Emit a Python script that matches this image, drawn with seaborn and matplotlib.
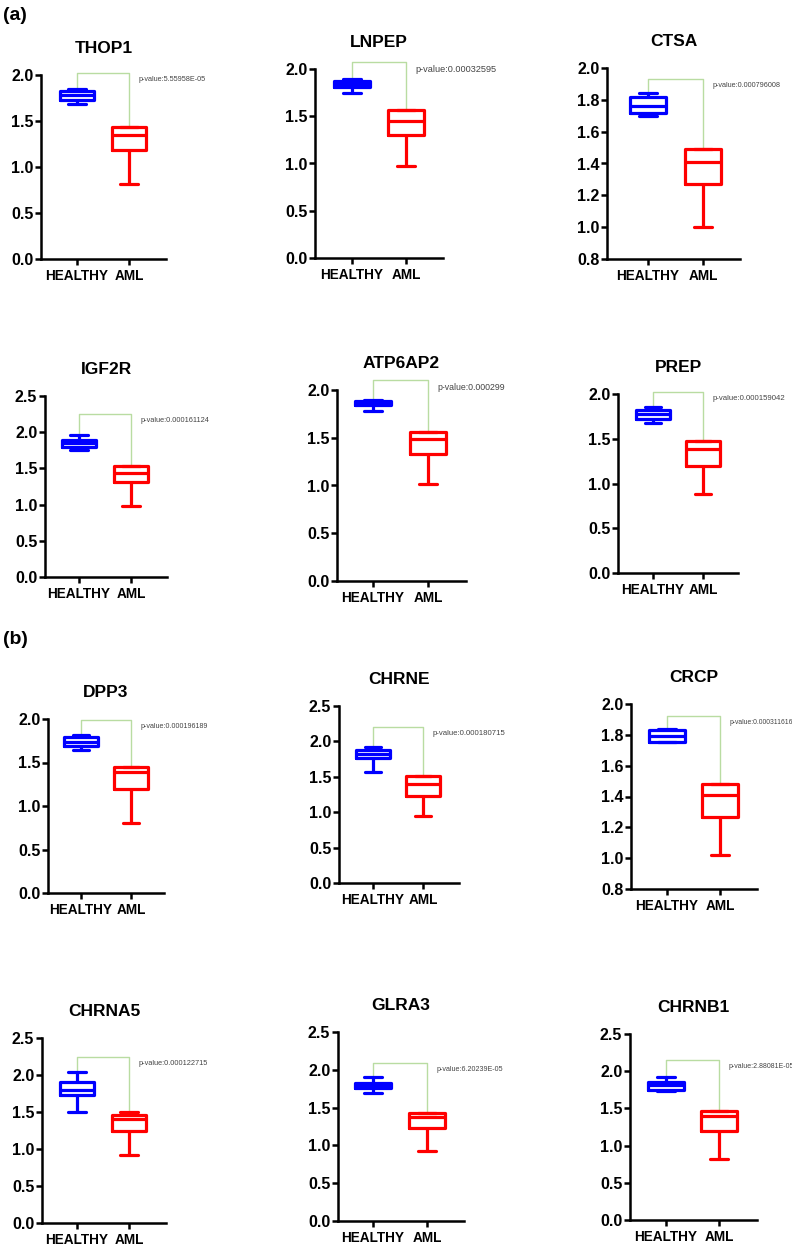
import pandas as pd
import matplotlib
matplotlib.use("Agg")
import matplotlib.pyplot as plt
from matplotlib.ticker import MultipleLocator, FormatStrFormatter
import seaborn as sns

# gene names and p-values, in reading order
genes = ["THOP1", "LNPEP", "CTSA", "IGF2R", "ATP6AP2", "PREP",
         "DPP3", "CHRNE", "CRCP", "CHRNA5", "GLRA3", "CHRNB1"]
pvalues = ["p-value:5.55958E-05", "p-value:0.00032595", "p-value:0.000796008",
           "p-value:0.000161124", "p-value:0.000299", "p-value:0.000159042",
           "p-value:0.000196189", "p-value:0.000180715", "p-value:0.000311616",
           "p-value:0.000122715", "p-value:6.20239E-05", "p-value:2.88081E-05"]

# five-number summaries: min, q1, median, q3, max
healthy = [
    [1.69, 1.73, 1.78, 1.83, 1.85],
    [1.75, 1.81, 1.84, 1.87, 1.89],
    [1.70, 1.72, 1.76, 1.815, 1.84],
    [1.76, 1.80, 1.85, 1.89, 1.96],
    [1.78, 1.84, 1.865, 1.89, 1.90],
    [1.675, 1.72, 1.78, 1.825, 1.85],
    [1.64, 1.69, 1.74, 1.79, 1.82],
    [1.57, 1.76, 1.82, 1.88, 1.92],
    [1.755, 1.755, 1.79, 1.83, 1.84],
    [1.50, 1.725, 1.80, 1.905, 2.04],
    [1.69, 1.76, 1.79, 1.82, 1.91],
    [1.73, 1.75, 1.82, 1.86, 1.92],
]
aml = [
    [0.81, 1.18, 1.35, 1.44, 1.44],
    [0.97, 1.30, 1.45, 1.57, 1.57],
    [1.00, 1.27, 1.41, 1.49, 1.49],
    [0.98, 1.31, 1.44, 1.54, 1.54],
    [1.02, 1.33, 1.49, 1.56, 1.56],
    [0.88, 1.20, 1.39, 1.47, 1.47],
    [0.80, 1.19, 1.39, 1.45, 1.45],
    [0.95, 1.23, 1.40, 1.51, 1.51],
    [1.02, 1.265, 1.41, 1.48, 1.48],
    [0.92, 1.24, 1.40, 1.455, 1.50],
    [0.92, 1.225, 1.38, 1.43, 1.43],
    [0.82, 1.20, 1.40, 1.46, 1.46],
]
# height of the significance bracket
bracket_top = [2.02, 2.07, 1.93, 2.25, 2.10, 2.02, 1.99, 2.20, 1.92, 2.24, 2.09, 2.15]

# y axis range and tick step per panel
y_min = [0, 0, 0.8, 0, 0, 0, 0, 0, 0.8, 0, 0, 0]
y_max = [2.0, 2.0, 2.0, 2.5, 2.0, 2.0, 2.0, 2.5, 2.0, 2.5, 2.5, 2.5]
y_step = [0.5, 0.5, 0.2, 0.5, 0.5, 0.5, 0.5, 0.5, 0.2, 0.5, 0.5, 0.5]

# layout in pixels: axes left, right, top, bottom, x of HEALTHY, x of AML
layout = [
    (41, 166, 75, 259, 77, 129),
    (315, 443, 69, 258, 352, 406),
    (607, 740, 68, 259, 648, 703),
    (45, 167, 396, 577, 79, 131),
    (337, 466, 390, 581, 373, 428),
    (618, 738, 394, 573, 653, 703),
    (48, 164, 719, 893, 81, 131),
    (339, 459, 706, 883, 373, 423),
    (631, 757, 704, 889, 667, 720),
    (42, 166, 1038, 1223, 77, 129),
    (338, 464, 1032, 1221, 373, 427),
    (630, 757, 1034, 1220, 666, 719),
]
pv_size = [5.2, 6.6, 5.2, 5.3, 6.3, 5.6, 5.1, 5.6, 4.9, 5.3, 5.1, 5.0]

W, H = 792, 1249
colors = {"HEALTHY": "#0000ff", "AML": "#ff0000"}

sns.set_style("ticks")
plt.rcParams["font.family"] = ["Liberation Sans", "DejaVu Sans"]
plt.rcParams["font.weight"] = "bold"
plt.rcParams["axes.linewidth"] = 1.8
plt.rcParams["text.color"] = "black"
plt.rcParams["xtick.color"] = "black"
plt.rcParams["ytick.color"] = "black"
plt.rcParams["axes.edgecolor"] = "black"

fig = plt.figure(figsize=(W / 100, H / 100), dpi=100)

for i, gene in enumerate(genes):
    left, right, top, bottom, c0, c1 = layout[i]
    ax = fig.add_axes([left / W, 1 - bottom / H, (right - left) / W, (bottom - top) / H])
    df = pd.DataFrame({
        "group": ["HEALTHY"] * len(healthy[i]) + ["AML"] * len(aml[i]),
        "value": healthy[i] + aml[i],
    })
    sns.boxplot(data=df, x="group", y="value", hue="group", palette=colors,
                order=["HEALTHY", "AML"], hue_order=["HEALTHY", "AML"],
                fill=False, width=0.67, whis=(0, 100), linewidth=2.3,
                legend=False, ax=ax)

    # significance bracket
    top_val = bracket_top[i]
    ax.plot([0, 0, 1, 1], [max(healthy[i]), top_val, top_val, max(aml[i])],
            color="#b9dca2", lw=1.0, clip_on=False, zorder=0)
    ax.annotate(pvalues[i], xy=(1, top_val), xytext=(6.5, -2),
                textcoords="offset points", ha="left", va="top",
                fontsize=pv_size[i], fontweight="normal", color="#444444",
                annotation_clip=False)

    span = c1 - c0
    ax.set_xlim((left - c0) / span, (right - c0) / span)
    ax.set_ylim(y_min[i], y_max[i])
    ax.yaxis.set_major_locator(MultipleLocator(y_step[i]))
    ax.yaxis.set_major_formatter(FormatStrFormatter("%.1f"))
    ax.set(xlabel="", ylabel="")
    ax.set_title(gene, fontsize=12.5, fontweight="bold", pad=16, color="black")
    ax.tick_params(axis="both", width=1.8, length=4, color="black",
                   labelcolor="black")
    ax.tick_params(axis="y", labelsize=11.5, pad=1.5)
    ax.tick_params(axis="x", labelsize=9.8, pad=3)
    for lab in ax.get_xticklabels() + ax.get_yticklabels():
        lab.set_fontweight("bold")
    sns.despine(ax=ax)

fig.text(3 / W, 1 - 16 / H, "(a)", fontsize=14, fontweight="bold", va="center")
fig.text(3 / W, 1 - 640 / H, "(b)", fontsize=14, fontweight="bold", va="center")

fig.savefig("out.png", dpi=100)
plt.close(fig)
